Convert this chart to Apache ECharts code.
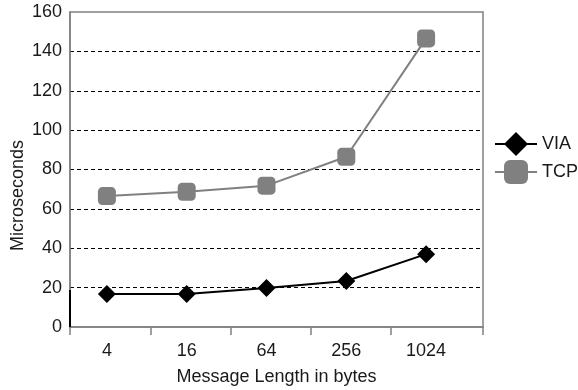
<!DOCTYPE html>
<html>
<head>
<meta charset="utf-8">
<script src="https://cdn.jsdelivr.net/npm/echarts@6/dist/echarts.min.js"></script>
<style>
  html, body { margin: 0; padding: 0; background: #fff; }
  #chart { width: 578px; height: 390px; }
</style>
</head>
<body>
<div id="chart"></div>
<script>
// Message sizes (bytes) and measured latency in microseconds
const messageSizes = ['4', '16', '64', '256', '1024'];
const viaLatency = [16.8, 16.8, 19.8, 23.4, 37];
const tcpLatency = [66.5, 68.7, 71.8, 86.5, 146.6];
const yTicks = { min: 0, max: 160, step: 20 };

const FONT = '"Liberation Sans", Arial, sans-serif';
const TEXT = '#1a1a1a';
const FRAME = '#808080';

const chart = echarts.init(document.getElementById('chart'), null, { renderer: 'canvas' });

chart.setOption({
  animation: false,
  backgroundColor: '#fff',
  textStyle: { fontFamily: FONT },
  grid: [
    // outer plot frame, carries value axis and gridlines
    { left: 70, top: 12, width: 413, height: 315, show: true, borderColor: FRAME, borderWidth: 1.5, containLabel: false, outerBoundsMode: 'none' },
    // area where the categories are laid out
    { left: 67, top: 12, width: 399, height: 315, containLabel: false, outerBoundsMode: 'none' },
    // tick row between the categories
    { left: 31.3, top: 12, width: 399, height: 315, containLabel: false, outerBoundsMode: 'none' }
  ],
  legend: {
    orient: 'vertical',
    left: 494,
    top: 132,
    padding: 0,
    itemWidth: 42,
    itemHeight: 30,
    itemGap: 4,
    textStyle: { fontFamily: FONT, fontSize: 18, color: TEXT },
    data: ['VIA', 'TCP']
  },
  xAxis: [
    {
      gridIndex: 0,
      type: 'category',
      data: [''],
      boundaryGap: true,
      axisLine: { show: true, lineStyle: { color: FRAME, width: 1.5 } },
      axisTick: { show: true, length: 8, lineStyle: { color: FRAME, width: 1.5 } },
      axisLabel: { show: false },
      name: 'Message Length in bytes',
      nameLocation: 'middle',
      nameMoveOverlap: false,
      nameGap: 41,
      nameTextStyle: { fontFamily: FONT, fontSize: 18, color: TEXT }
    },
    {
      gridIndex: 1,
      type: 'category',
      data: messageSizes,
      boundaryGap: true,
      axisLine: { show: false },
      axisTick: { show: false },
      axisLabel: { fontFamily: FONT, fontSize: 18, color: TEXT, margin: 15 },
      splitLine: { show: false }
    },
    {
      gridIndex: 2,
      type: 'category',
      data: messageSizes,
      boundaryGap: true,
      axisLine: { show: false },
      axisLabel: { show: false },
      axisTick: {
        show: true,
        alignWithLabel: true,
        interval: (index) => index > 0,
        length: 8,
        lineStyle: { color: FRAME, width: 1.5 }
      },
      splitLine: { show: false }
    }
  ],
  yAxis: [
    {
      gridIndex: 0,
      type: 'value',
      min: yTicks.min,
      max: yTicks.max,
      interval: yTicks.step,
      axisLine: { show: true, lineStyle: { color: FRAME, width: 1.5 } },
      axisTick: { show: false },
      axisLabel: { fontFamily: FONT, fontSize: 18, color: TEXT, margin: 8 },
      splitLine: {
        show: true,
        showMinLine: false,
        showMaxLine: false,
        lineStyle: { color: '#000', width: 1, type: [4, 3] }
      },
      name: 'Microseconds',
      nameLocation: 'middle',
      nameMoveOverlap: false,
      nameGap: 43,
      nameTextStyle: { fontFamily: FONT, fontSize: 18, color: TEXT, padding: [0, 52, 0, 0] }
    },
    {
      gridIndex: 1,
      type: 'value',
      min: yTicks.min,
      max: yTicks.max,
      show: false,
      splitLine: { show: false }
    },
    {
      gridIndex: 2,
      type: 'value',
      min: yTicks.min,
      max: yTicks.max,
      show: false,
      splitLine: { show: false }
    }
  ],
  graphic: [
    { type: 'line', z: 100, shape: { x1: 70, y1: 290, x2: 70, y2: 327 }, style: { stroke: '#000', lineWidth: 2 } }
  ],
  series: [
    {
      name: 'TCP',
      type: 'line',
      xAxisIndex: 1,
      yAxisIndex: 1,
      data: tcpLatency,
      symbol: 'roundRect',
      symbolSize: 18,
      itemStyle: { color: '#808080' },
      lineStyle: { color: '#808080', width: 2 },
      z: 2
    },
    {
      name: 'VIA',
      type: 'line',
      xAxisIndex: 1,
      yAxisIndex: 1,
      data: viaLatency,
      symbol: 'diamond',
      symbolSize: 18,
      itemStyle: { color: '#000' },
      lineStyle: { color: '#000', width: 2 },
      z: 3
    }
  ]
});
</script>
</body>
</html>
